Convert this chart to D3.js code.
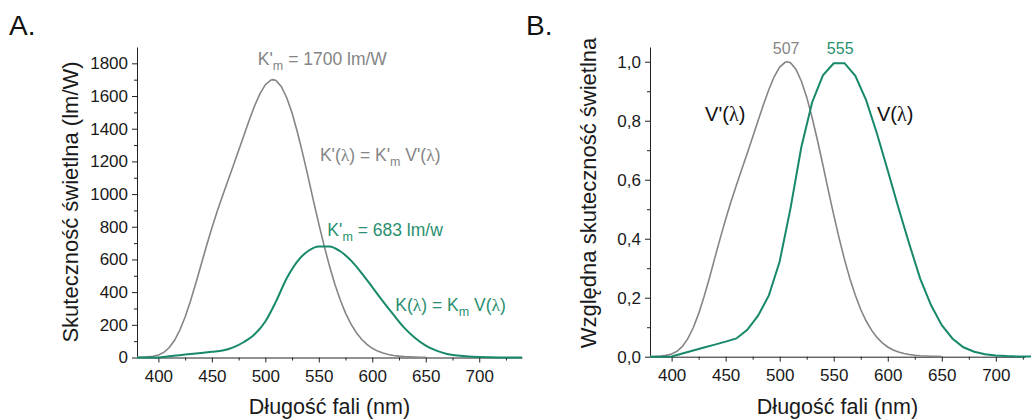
<!DOCTYPE html>
<html>
<head>
<meta charset="utf-8">
<script src="https://cdn.jsdelivr.net/npm/d3@7"></script>
<style>
  body { margin: 0; background: #fff; }
  text { font-family: Arial, "Liberation Sans", sans-serif; }
</style>
</head>
<body>
<div id="chart"></div>
<script>
// Dane: krzywe widmowe
// ====================
var wlPhot = [380, 390, 400, 410, 420, 430, 440, 450, 460, 470, 480, 490, 500, 510, 520, 530, 540, 550, 560,
  570, 580, 590, 600, 610, 620, 630, 640, 650, 660, 670, 680, 690, 700, 710, 720, 730, 740];
var vPhot = [0.00004, 0.00012, 0.0006, 0.011, 0.021, 0.031, 0.041, 0.051, 0.062, 0.091, 0.139, 0.208, 0.323,
  0.503, 0.71, 0.862, 0.954, 0.995, 0.995, 0.952, 0.87, 0.757, 0.631, 0.503, 0.381, 0.265, 0.175, 0.107,
  0.061, 0.032, 0.017, 0.0082, 0.0041, 0.0021, 0.001, 0.0005, 0.00025];

var wlScot = [380, 385, 390, 395, 400, 405, 410, 415, 420, 425, 430, 435, 440, 445, 450, 455, 460, 465, 470,
  475, 480, 485, 490, 495, 500, 505, 507, 510, 515, 520, 525, 530, 535, 540, 545, 550, 555, 560, 565, 570,
  575, 580, 585, 590, 595, 600, 605, 610, 615, 620, 625, 630, 635, 640, 645, 650];
var vScot = [0.0006, 0.0011, 0.0022, 0.0045, 0.0093, 0.0185, 0.035, 0.061, 0.098, 0.146, 0.203, 0.267, 0.335,
  0.402, 0.466, 0.526, 0.582, 0.636, 0.69, 0.745, 0.8, 0.855, 0.906, 0.95, 0.982, 0.998, 1.0, 0.997, 0.975,
  0.935, 0.88, 0.811, 0.733, 0.65, 0.564, 0.481, 0.402, 0.329, 0.264, 0.208, 0.16, 0.121, 0.09, 0.0655,
  0.047, 0.033, 0.023, 0.016, 0.011, 0.0074, 0.005, 0.0033, 0.0022, 0.0015, 0.001, 0.0007];

var kmPhot = 683, kmScot = 1700;

var xTicks = [400, 450, 500, 550, 600, 650, 700];
var yTicksA = [0, 200, 400, 600, 800, 1000, 1200, 1400, 1600, 1800];
var yTicksB = [0, 0.2, 0.4, 0.6, 0.8, 1.0];

var grey = "#858585", green = "#17896a", greenText = "#2a8f70";

var W = 1031, H = 419;
var svg = d3.select("#chart").append("svg").attr("width", W).attr("height", H);

function panel(o) {
  var x = d3.scaleLinear().domain(o.xDomain).range([o.left, o.right]);
  var y = d3.scaleLinear().domain(o.yDomain).range([o.bottom, o.top]);
  var g = svg.append("g");

  // osie
  var xMinor = d3.range(375, o.xDomain[1] + 0.1, 25).filter(function(v) { return v > o.xDomain[0] && xTicks.indexOf(v) < 0; });
  g.append("g").attr("transform", "translate(0," + o.bottom + ")")
    .call(d3.axisBottom(x).tickValues(xMinor).tickSize(3).tickFormat(""))
    .call(function(s) { s.select(".domain").remove(); });
  g.append("g").attr("transform", "translate(0," + o.bottom + ")")
    .call(d3.axisBottom(x).tickValues(xTicks).tickSize(5).tickSizeOuter(0).tickPadding(7))
    .call(function(s) { s.selectAll("text").attr("font-size", 17).attr("fill", "#1a1a1a"); });

  g.append("g").attr("transform", "translate(" + o.left + ",0)")
    .call(d3.axisLeft(y).tickValues(o.yMinor).tickSize(3).tickFormat(""))
    .call(function(s) { s.select(".domain").remove(); });
  g.append("g").attr("transform", "translate(" + o.left + ",0)")
    .call(d3.axisLeft(y).tickValues(o.yTicks).tickSize(5).tickSizeOuter(0).tickPadding(4).tickFormat(o.fmt))
    .call(function(s) { s.selectAll("text").attr("font-size", 17).attr("fill", "#1a1a1a"); });

  g.selectAll(".domain").attr("stroke", "#222");
  g.selectAll(".tick line").attr("stroke", "#222");

  // krzywe
  var line = d3.line().x(function(d) { return x(d[0]); }).y(function(d) { return y(d[1]); });
  g.append("path").datum(d3.zip(wlScot, vScot.map(function(v) { return v * o.scaleScot; })))
    .attr("fill", "none").attr("stroke", grey).attr("stroke-width", 1.6).attr("d", line);
  g.append("path").datum(d3.zip(wlPhot, vPhot.map(function(v) { return v * o.scalePhot; })))
    .attr("fill", "none").attr("stroke", green).attr("stroke-width", 2).attr("d", line.curve(o.curve));

  // tytuły osi
  g.append("text").attr("x", (o.left + o.right) / 2).attr("y", 414).attr("text-anchor", "middle")
    .attr("font-size", 21.5).attr("fill", "#1a1a1a").text("Długość fali (nm)");
  g.append("text").attr("transform", "translate(" + o.yTitleX + "," + o.yTitleY + ") rotate(-90)")
    .attr("text-anchor", "middle").attr("font-size", 22).attr("fill", "#1a1a1a").text(o.yTitle);
  g.append("text").attr("x", o.letterX).attr("y", 35).attr("font-size", 28).attr("fill", "#111").text(o.letter);

  // adnotacje
  o.notes.forEach(function(n) {
    var t = g.append("text").attr("x", x(n.x)).attr("y", y(n.y)).attr("font-size", n.size || 17.5)
      .attr("fill", n.color).attr("text-anchor", n.anchor || "start");
    n.parts.forEach(function(p) {
      var ts = t.append("tspan").text(p[0]);
      if (p[1] === "sub") ts.attr("font-size", 12.5).attr("dy", 5);
      if (p[1] === "up") ts.attr("dy", -5);
      if (p[1] === "l") ts.attr("font-family", "'Liberation Serif', serif");
    });
  });
}

panel({
  left: 137, right: 522, top: 47, bottom: 357.5,
  xDomain: [380, 740], yDomain: [0, 1900],
  yTicks: yTicksA, yMinor: d3.range(100, 1900, 200),
  fmt: d3.format("d"), scaleScot: kmScot, scalePhot: kmPhot, curve: d3.curveMonotoneX,
  yTitle: "Skuteczność świetlna (lm/W)", yTitleX: 78, yTitleY: 202,
  letter: "A.", letterX: 9,
  notes: [
    { x: 493, y: 1790, color: grey, parts: [["K'"], ["m", "sub"], [" = 1700 lm/W", "up"]] },
    { x: 551, y: 1205, color: grey, parts: [["K'("], ["λ", "l"], [") = K'"], ["m", "sub"], [" V'(", "up"], ["λ", "l"], [")"]] },
    { x: 558, y: 745, color: greenText, parts: [["K'"], ["m", "sub"], [" = 683 lm/w", "up"]] },
    { x: 621.5, y: 285, color: greenText, parts: [["K("], ["λ", "l"], [") = K"], ["m", "sub"], [" V(", "up"], ["λ", "l"], [")"]] }
  ]
});

panel({
  left: 650, right: 1025, top: 47, bottom: 356.7,
  xDomain: [380, 727], yDomain: [0, 1.05],
  yTicks: yTicksB, yMinor: [0.1, 0.3, 0.5, 0.7, 0.9],
  fmt: function(v) { return d3.format(".1f")(v).replace(".", ","); }, scaleScot: 1, scalePhot: 1, curve: d3.curveLinear,
  yTitle: "Względna skuteczność świetlna", yTitleX: 596, yTitleY: 193,
  letter: "B.", letterX: 526,
  notes: [
    { x: 506, y: 1.025, color: grey, anchor: "middle", size: 16, parts: [["507"]] },
    { x: 556, y: 1.025, color: greenText, anchor: "middle", size: 16, parts: [["555"]] },
    { x: 431, y: 0.8, color: "#111", size: 20, parts: [["V'("], ["λ", "l"], [")"]] },
    { x: 590, y: 0.8, color: "#111", size: 20, parts: [["V("], ["λ", "l"], [")"]] }
  ]
});
</script>
</body>
</html>
